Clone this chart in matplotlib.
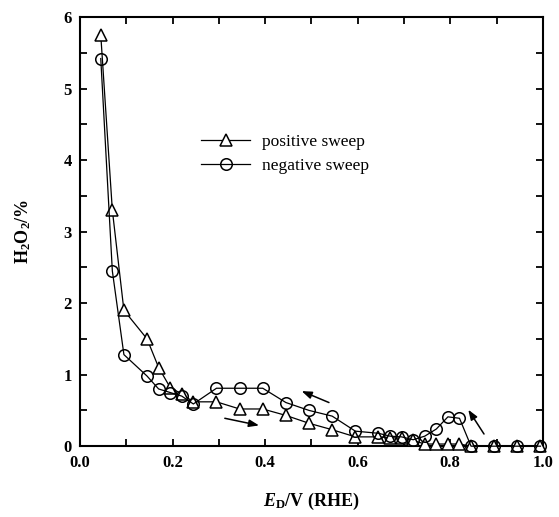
import matplotlib
matplotlib.use("Agg")
import matplotlib.pyplot as plt
from matplotlib.ticker import MultipleLocator

plt.rcParams['font.family'] = ['Liberation Serif', 'DejaVu Serif']
plt.rcParams['mathtext.fontset'] = 'custom'
plt.rcParams['mathtext.rm'] = 'Liberation Serif:bold'
plt.rcParams['mathtext.it'] = 'Liberation Serif:bold:italic'
plt.rcParams['mathtext.bf'] = 'Liberation Serif:bold'

potential = [0.045, 0.07, 0.095, 0.145, 0.17, 0.195, 0.22, 0.245, 0.295, 0.345,
             0.395, 0.445, 0.495, 0.545, 0.595, 0.645, 0.67, 0.695, 0.72, 0.745,
             0.77, 0.795, 0.82, 0.845, 0.895, 0.945, 0.995]
positive_sweep = [5.75, 3.3, 1.9, 1.5, 1.1, 0.82, 0.73, 0.62, 0.62, 0.52,
                  0.52, 0.43, 0.32, 0.23, 0.13, 0.13, 0.12, 0.11, 0.08, 0.03,
                  0.03, 0.03, 0.03, 0.0, 0.0, 0.0, 0.0]
negative_sweep = [5.42, 2.45, 1.28, 0.98, 0.8, 0.75, 0.7, 0.59, 0.81, 0.81,
                  0.81, 0.61, 0.5, 0.42, 0.21, 0.18, 0.14, 0.13, 0.09, 0.14,
                  0.24, 0.41, 0.39, 0.0, 0.0, 0.0, 0.0]
series_labels = ['positive sweep', 'negative sweep']
x_ticks = [0.0, 0.2, 0.4, 0.6, 0.8, 1.0]
y_ticks = [0, 1, 2, 3, 4, 5, 6]
# sweep direction arrows: (start, end) in data coordinates
arrows = [((0.313, 0.39), (0.387, 0.29)),
          ((0.538, 0.61), (0.479, 0.77)),
          ((0.873, 0.17), (0.839, 0.51))]

fig = plt.figure(figsize=(5.59, 5.17), dpi=100)
ax = fig.add_axes([0.143, 0.137, 0.828, 0.830])

ax.plot(potential, positive_sweep, color='black', lw=0.9, marker='^', ms=8.3,
        mfc='white', mec='black', mew=1.1, label=series_labels[0], clip_on=False, zorder=3)
ax.plot(potential, negative_sweep, color='black', lw=0.9, marker='o', ms=8.3,
        mfc='none', mec='black', mew=1.1, label=series_labels[1], clip_on=False, zorder=4)

for (x0, y0), (x1, y1) in arrows:
    ax.annotate('', xy=(x1, y1), xytext=(x0, y0),
                arrowprops=dict(arrowstyle='-|>,head_length=0.6,head_width=0.22',
                                color='black', lw=1.1, shrinkA=0, shrinkB=0))

ax.set_xlim(0, 1.0)
ax.set_ylim(0, 6)
ax.set_xticks(x_ticks)
ax.set_xticklabels([f'{v:.1f}' for v in x_ticks])
ax.set_yticks(y_ticks)
ax.set_yticklabels([str(v) for v in y_ticks])
ax.xaxis.set_minor_locator(MultipleLocator(0.1))
ax.yaxis.set_minor_locator(MultipleLocator(0.5))
ax.tick_params(which='both', direction='in', top=True, right=True,
               length=5, width=1.3)
ax.tick_params(axis='both', labelsize=12, pad=6)
for lab in ax.get_xticklabels() + ax.get_yticklabels():
    lab.set_fontweight('bold')
for s in ax.spines.values():
    s.set_linewidth(1.5)

ax.set_xlabel(r'$E_{\mathrm{D}}$/V (RHE)', fontsize=13, fontweight='bold', labelpad=15)
ax.set_ylabel(r'H$_{\mathrm{2}}$O$_{\mathrm{2}}$/%', fontsize=13, fontweight='bold', labelpad=22)

ax.legend(loc='upper left', bbox_to_anchor=(0.262, 0.727), frameon=False,
          fontsize=12.5, handlelength=2.8, handletextpad=0.7, borderpad=0,
          borderaxespad=0, labelspacing=0.42)

fig.savefig('out.png', dpi=100)
